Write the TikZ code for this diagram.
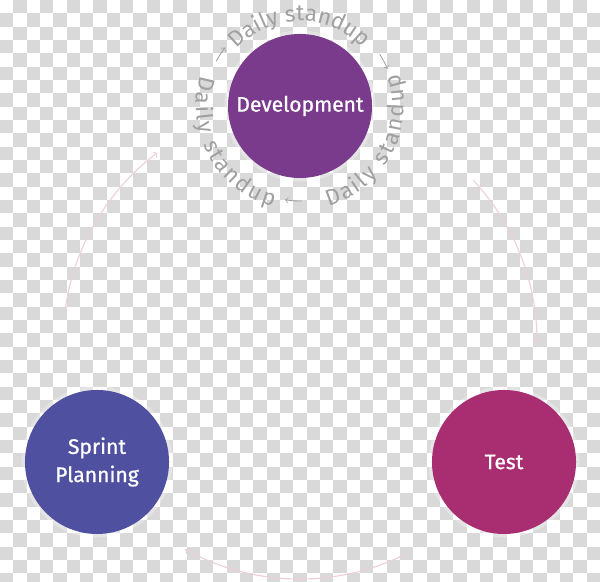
\documentclass[tikz,border=0pt]{standalone}
\usepackage{fontspec}
\setmainfont{Fira Sans}
\newfontfamily\stagefont{Fira Sans}[FakeBold=0.8]
\usetikzlibrary{decorations.text}
\definecolor{devpurple}{HTML}{7B3B8C}
\definecolor{testpink}{HTML}{A92D71}
\definecolor{planblue}{HTML}{4F50A0}
\definecolor{ringgrey}{HTML}{A0A0A0}
\definecolor{cyclepink}{HTML}{EDCFDA}
\tikzset{
    stage/.style={circle, inner sep=0pt, minimum size=3.6cm, text=white,
        font=\stagefont\fontsize{15}{20}\selectfont, align=center,
        preaction={draw=white, line width=5pt, opacity=.3}},
    cycle arrow/.style={draw=cyclepink, line width=0.8pt, -to},
    ring arrow/.style={draw=ringgrey, line width=0.6pt, -to},
    ring text/.style={decorate, decoration={text along path, text align=fit to path,
        text color=ringgrey, text={|\fontsize{16}{16}\selectfont|Daily standup}}}
}
\begin{document}
\begin{tikzpicture}[x=0.025cm, y=0.025cm]
    \useasboundingbox (0,0) rectangle (600,582);
    % checkerboard
    \begin{scope}
        \clip (0,0) rectangle (600,582);
        \foreach \i in {0,2,...,44} \foreach \j in {1,3,...,43}
            \fill[gray!30] ({\i*13.33},{582-\j*13.33}) rectangle +(13.33,-13.33);
        \foreach \i in {1,3,...,43} \foreach \j in {0,2,...,42}
            \fill[gray!30] ({\i*13.33},{582-\j*13.33}) rectangle +(13.33,-13.33);
    \end{scope}
    \coordinate (hub) at (300,240);
    \node[stage, fill=devpurple] (dev) at (300,476) {Development};
    \node[stage, fill=testpink] (test) at (504,120) {Test};
    \node[stage, fill=planblue] (plan) at (97,120) {Sprint\\Planning};
    % sprint cycle
    \draw[cycle arrow] ([shift={(172:237)}]hub) arc[start angle=172, end angle=127, radius=237];
    \draw[cycle arrow] ([shift={(43:237)}]hub) arc[start angle=43, end angle=0, radius=237];
    \draw[cycle arrow] ([shift={(297:237)}]hub) arc[start angle=297, end angle=241, radius=237];
    % daily standup ring
    \path[ring text] ([shift={(138:85)}]dev.center) arc[start angle=138, end angle=43, radius=85];
    \path[ring text] ([shift={(-74:104)}]dev.center) arc[start angle=-74, end angle=18, radius=104];
    \path[ring text] ([shift={(163:104)}]dev.center) arc[start angle=163, end angle=255, radius=104];
    \draw[ring arrow] ([shift={(152:95)}]dev.center) arc[start angle=152, end angle=142, radius=95];
    \draw[ring arrow] ([shift={(33:95)}]dev.center) arc[start angle=33, end angle=23, radius=95];
    \draw[ring arrow] ([shift={(271:95)}]dev.center) arc[start angle=271, end angle=261, radius=95];
\end{tikzpicture}
\end{document}
